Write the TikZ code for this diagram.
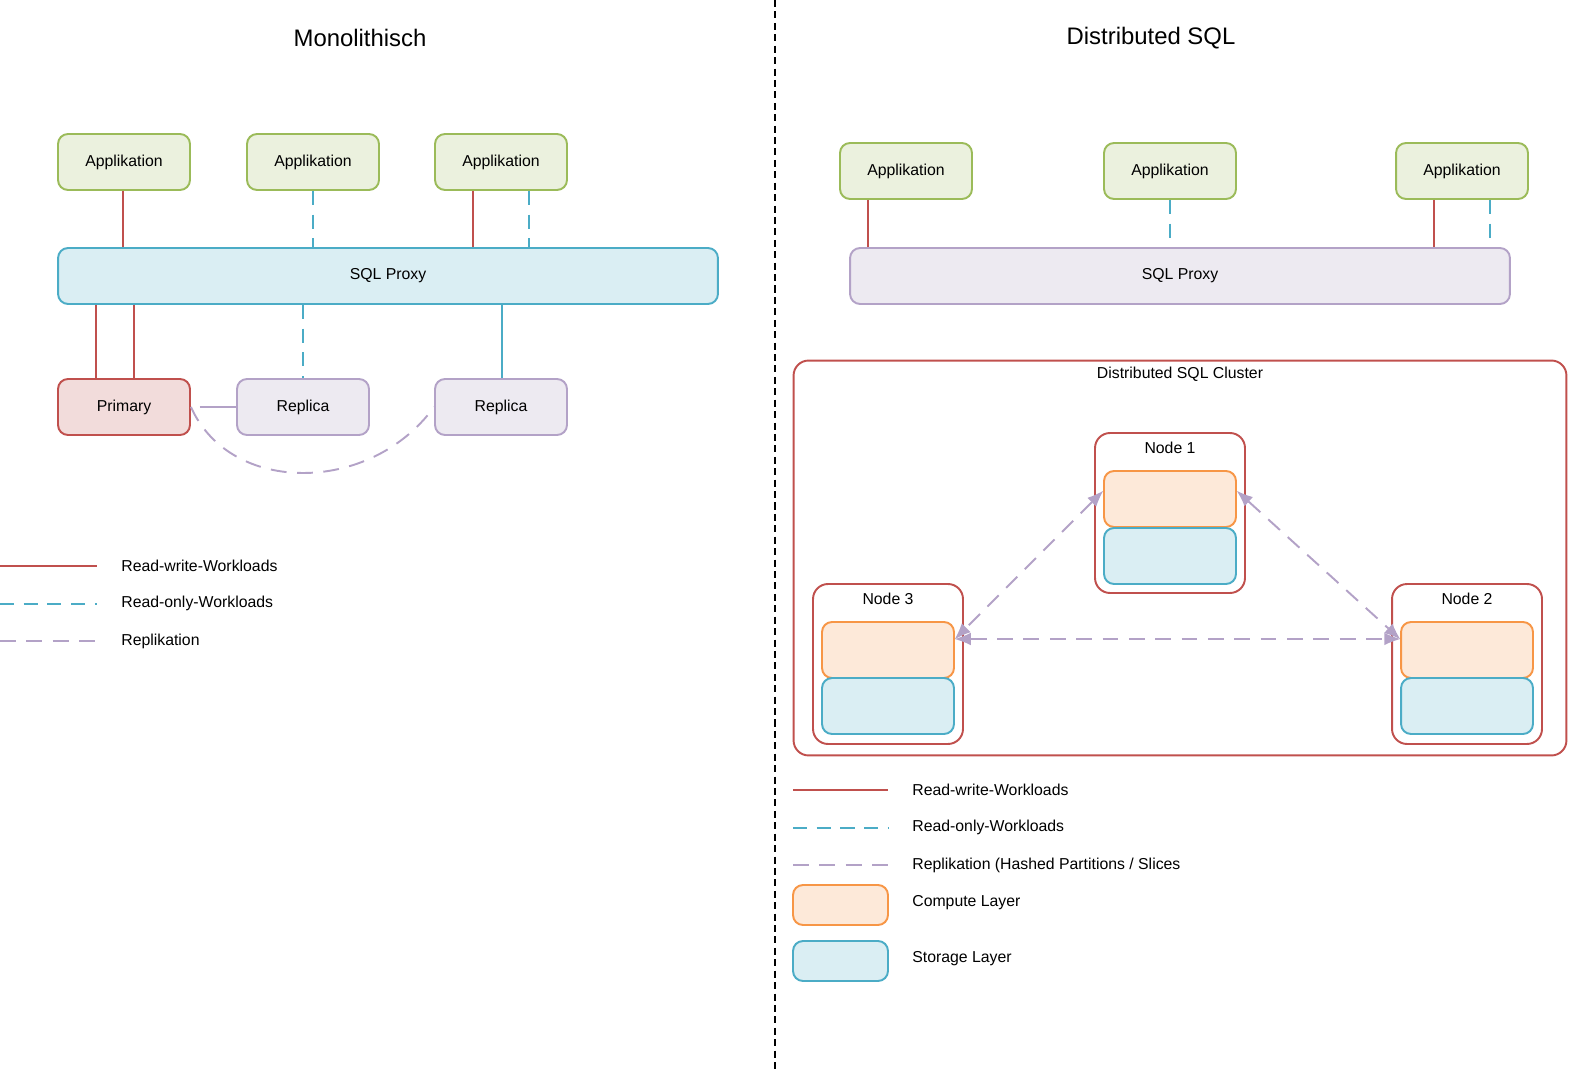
\documentclass[tikz,border=0pt]{standalone}
\usepackage{fontspec}
\setmainfont{Liberation Sans}
\usetikzlibrary{positioning,arrows.meta}

\definecolor{appline}{HTML}{9BBB59}
\definecolor{appfill}{HTML}{EBF1DE}
\definecolor{rwline}{HTML}{C0504D}
\definecolor{rwfill}{HTML}{F2DCDB}
\definecolor{roline}{HTML}{4BACC6}
\definecolor{rofill}{HTML}{DAEEF3}
\definecolor{repline}{HTML}{B3A2C7}
\definecolor{repfill}{HTML}{EDEAF1}
\definecolor{cpline}{HTML}{F79646}
\definecolor{cpfill}{HTML}{FDE9D9}

\begin{document}
\begin{tikzpicture}[x=0.02cm,y=-0.02cm,
  every node/.style={font=\fontsize{9}{11}\selectfont},
  box/.style={rounded corners=0.2cm,line width=1.1pt,minimum width=2.64cm,minimum height=1.12cm,inner sep=0pt},
  appbox/.style={box,draw=appline,fill=appfill},
  primbox/.style={box,draw=rwline,fill=rwfill},
  repbox/.style={box,draw=repline,fill=repfill},
  cpbox/.style={box,draw=cpline,fill=cpfill},
  stbox/.style={box,draw=roline,fill=rofill},
  nodebox/.style={draw=rwline,line width=1.1pt,rounded corners=0.3cm,minimum width=3cm,minimum height=3.2cm,inner sep=0pt},
  rw/.style={rwline,line width=1.1pt},
  ro/.style={roline,line width=1.1pt,dash pattern=on 8pt off 5.5pt},
  rep/.style={repline,line width=1.1pt,dash pattern=on 9pt off 6pt},
  both/.style={{Latex[length=9pt,width=7pt,fill=repline,line width=0pt]}-{Latex[length=9pt,width=7pt,fill=repline,line width=0pt]}},
  legtext/.style={anchor=west,inner sep=0pt},
  title/.style={font=\fontsize{13.6}{16}\selectfont}]
\useasboundingbox (0,0) rectangle (1571,1070);

% divider
\draw [black,line width=1.1pt,dash pattern=on 4pt off 2.5pt] (775,0) -- (775,1070);

% ---- left: monolithisch
\node[title] (lt) at (360,38) {Monolithisch};
\node[appbox] (la1) at (124,162) {Applikation};
\node[appbox] (la2) at (313,162) {Applikation};
\node[appbox] (la3) at (501,162) {Applikation};
\node[box,draw=roline,fill=rofill,minimum width=13.2cm] (lproxy) at (388,276) {SQL Proxy};
\node[primbox] (prim) at (124,407) {Primary};
\node[repbox] (rep1) at (303,407) {Replica};
\node[repbox] (rep2) at (501,407) {Replica};

\draw [rw] (la1.south -| 123,0) -- (lproxy.north -| 123,0);
\draw [ro] (la2.south) -- (lproxy.north -| la2.south);
\draw [rw] (la3.south -| 473,0) -- (lproxy.north -| 473,0);
\draw [ro] (la3.south -| 529,0) -- (lproxy.north -| 529,0);
\draw [rw] (lproxy.south -| 96,0) -- (prim.north -| 96,0);
\draw [rw] (lproxy.south -| 134,0) -- (prim.north -| 134,0);
\draw [ro] (lproxy.south -| rep1.north) -- (rep1.north);
\draw [roline,line width=1.1pt] (lproxy.south -| 502,0) -- (rep2.north -| 502,0);
\draw [repline,line width=1.1pt,dash pattern=on 0pt off 5pt on 40pt] (prim.east) -- (rep1.west);
\draw [rep] (prim.east) .. controls (230,495) and (370,495) .. (rep2.west);

% legend left
\coordinate (ll1a) at (0,566); \coordinate (ll1b) at (97,566);
\coordinate (ll2a) at (0,604); \coordinate (ll2b) at (97,604);
\coordinate (ll3a) at (0,641); \coordinate (ll3b) at (97,641);
\draw [rw] (ll1a) -- (ll1b);
\draw [ro] (ll2a) -- (ll2b);
\draw [rep] (ll3a) -- (ll3b);
\node[legtext] (lt1) at (121,566) {Read-write-Workloads};
\node[legtext] (lt2) at (121,603) {Read-only-Workloads};
\node[legtext] (lt3) at (121,641) {Replikation};

% ---- right: distributed sql
\node[title] (rt) at (1151,38) {Distributed SQL};
\node[appbox] (ra1) at (906,171) {Applikation};
\node[appbox] (ra2) at (1170,171) {Applikation};
\node[appbox] (ra3) at (1462,171) {Applikation};
\node[box,draw=repline,fill=repfill,minimum width=13.2cm] (rproxy) at (1180,276) {SQL Proxy};

\draw [rw] (ra1.south -| 868,0) -- (rproxy.north -| 868,0);
\draw [ro] (ra2.south) -- (rproxy.north -| ra2.south);
\draw [rw] (ra3.south -| 1434,0) -- (rproxy.north -| 1434,0);
\draw [ro] (ra3.south -| 1490,0) -- (1490,240);

% cluster
\node[draw=rwline,line width=1.1pt,rounded corners=0.3cm,minimum width=15.46cm,minimum height=7.9cm,inner sep=0pt] (cluster) at (1180,558) {};
\node[below=1pt of cluster.north] (clbl) {Distributed SQL Cluster};

\node[nodebox] (n1) at (1170,513) {};
\node[below=2pt of n1.north] (n1lbl) {Node 1};
\node[cpbox] (n1c) at (1170,499) {};
\node[stbox] (n1s) at (1170,556) {};

\node[nodebox] (n3) at (888,664) {};
\node[below=2pt of n3.north] (n3lbl) {Node 3};
\node[cpbox] (n3c) at (888,650) {};
\node[stbox] (n3s) at (888,706) {};

\node[nodebox] (n2) at (1467,664) {};
\node[below=2pt of n2.north] (n2lbl) {Node 2};
\node[cpbox] (n2c) at (1467,650) {};
\node[stbox] (n2s) at (1467,706) {};

\draw [rep,both] ([yshift=0.16cm]n1c.west) -- ([yshift=0.22cm]n3c.east);
\draw [rep,both] ([yshift=0.16cm]n1c.east) -- ([yshift=0.22cm]n2c.west);
\draw [rep,both] ([yshift=0.22cm]n3c.east) -- ([yshift=0.22cm]n2c.west);

% legend right
\coordinate (rl1a) at (793,790); \coordinate (rl1b) at (888,790);
\coordinate (rl2a) at (793,828); \coordinate (rl2b) at (888,828);
\coordinate (rl3a) at (793,865); \coordinate (rl3b) at (888,865);
\draw [rw] (rl1a) -- (rl1b);
\draw [ro] (rl2a) -- (rl2b);
\draw [rep] (rl3a) -- (rl3b);
\node[cpbox,minimum width=1.9cm,minimum height=0.8cm] (lgcp) at (840.5,905) {};
\node[stbox,minimum width=1.9cm,minimum height=0.8cm] (lgst) at (840.5,961) {};
\node[legtext] (rt1) at (912,790) {Read-write-Workloads};
\node[legtext] (rt2) at (912,827) {Read-only-Workloads};
\node[legtext] (rt3) at (912,865) {Replikation (Hashed Partitions / Slices};
\node[legtext] (rt4) at (912,903) {Compute Layer};
\node[legtext] (rt5) at (912,959) {Storage Layer};
\end{tikzpicture}
\end{document}
